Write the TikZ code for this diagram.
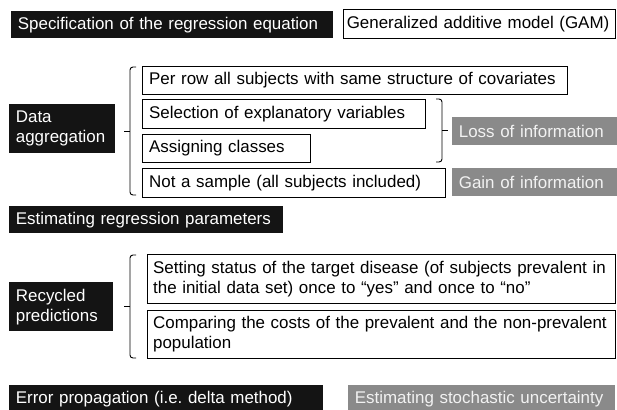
\documentclass[tikz,border=0pt]{standalone}
\usepackage{fontspec}
\setmainfont{Liberation Sans}
\usepackage{tikz}
\frenchspacing

\definecolor{boxblack}{HTML}{141414}
\definecolor{boxgray}{HTML}{8A8A8A}
\definecolor{txtgray}{HTML}{F2F2F2}

\tikzset{
  cell/.style={anchor=north west, inner xsep=0.2cm, inner ysep=0pt, align=left,
    font=\fontsize{14.45}{17}\selectfont},
  blk/.style={cell, fill=boxblack, text=white},
  wht/.style={cell, draw=black, line width=0.8pt, fill=white},
  gry/.style={cell, fill=boxgray, text=txtgray},
  brc/.style={line width=0.8pt, rounded corners=2.5pt}
}

\begin{document}
\begin{tikzpicture}[x=0.03cm,y=-0.03cm] %[units are pixels of the 617x409 frame]
\clip (0,0) rectangle (617,409);
\fill[white] (0,0) rectangle (617,409);

\node[blk, text width=9.26cm, minimum height=0.81cm] (spec) at (11,11) {Specification of the regression equation};
\node[wht, inner xsep=0.1cm, text width=7.96cm, minimum height=0.87cm] (gam) at (343,9) {Generalized additive model (GAM)};

\node[blk, text width=2.78cm, minimum height=1.47cm] (aggr) at (9,104) {Data\\aggregation};
\node[wht, text width=12.35cm, minimum height=0.84cm] (perrow) at (142,66) {Per row all subjects with same structure of covariates};
\node[wht, text width=8.09cm, minimum height=0.87cm] (select) at (142,99) {Selection of explanatory variables};
\node[wht, text width=4.64cm, minimum height=0.84cm] (assign) at (142,134) {Assigning classes};
\node[wht, text width=8.69cm, minimum height=0.87cm] (nosample) at (142,168) {Not a sample (all subjects included)};
\node[gry, text width=4.7cm, minimum height=0.84cm] (loss) at (452,117) {Loss of information};
\node[gry, text width=4.7cm, minimum height=0.84cm] (gain) at (452,168) {Gain of information};

\node[blk, text width=7.82cm, minimum height=0.81cm] (estim) at (9,206) {Estimating regression parameters};

\node[blk, text width=2.72cm, minimum height=1.47cm] (recyc) at (9,282) {Recycled\\predictions};
\node[wht, text width=13.7cm, inner xsep=0.17cm, minimum height=1.47cm] (setting) at (147,254) {Setting status of the target disease (of subjects prevalent in\\the initial data set) once to ``yes'' and once to ``no''};
\node[wht, text width=13.7cm, inner xsep=0.17cm, minimum height=1.44cm] (compare) at (147,310) {Comparing the costs of the prevalent and the non-prevalent\\population};

\node[blk, text width=9.02cm, minimum height=0.81cm] (error) at (9,385) {Error propagation (i.e. delta method)};
\node[gry, text width=7.61cm, minimum height=0.81cm] (stoch) at (348,385) {Estimating stochastic uncertainty};

% braces
\foreach \t/\b in {67/195,255/358} {
\draw[brc] (136,\t) -- (130,\t) -- (130,\b) -- (136,\b);
\draw[line width=0.8pt] (124,{(\t+\b)/2}) -- (130,{(\t+\b)/2});
}
\draw[brc] (436,99) -- (442,99) -- (442,162) -- (436,162);
\draw[line width=0.8pt] (442,130) -- (448,130);
\end{tikzpicture}
\end{document}
